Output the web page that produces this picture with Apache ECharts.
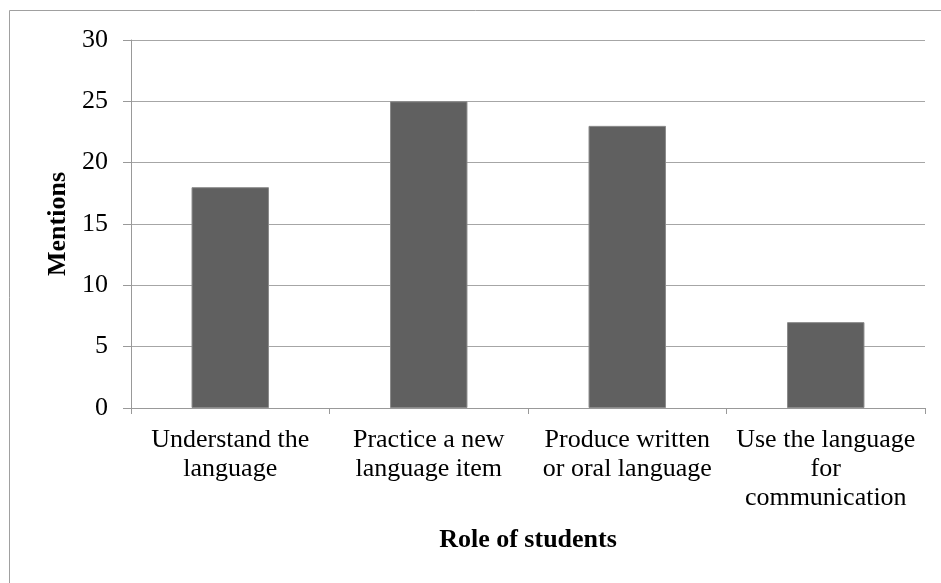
<!DOCTYPE html>
<html><head><meta charset="utf-8">
<script src="https://cdn.jsdelivr.net/npm/echarts@6/dist/echarts.min.js"></script>
<style>html,body{margin:0;padding:0;background:#fff}#c{width:941px;height:583px}</style>
</head><body><div id="c"></div>
<script>
const categories = ["Understand the\nlanguage", "Practice a new\nlanguage item", "Produce written\nor oral language", "Use the language\nfor\ncommunication"];
const mentions = [18, 25, 23, 7];
const yTicks = {min: 0, max: 30, interval: 5};

const chart = echarts.init(document.getElementById('c'));
const font = '"Liberation Serif", "Times New Roman", serif';
chart.setOption({
  animation: false,
  backgroundColor: '#fff',
  graphic: [{type: 'rect', shape: {x: 9.5, y: 10.5, width: 940, height: 580}, style: {fill: 'none', stroke: '#a0a0a0', lineWidth: 1}, silent: true}],
  grid: {left: 131, right: 16, top: 40, bottom: 175},
  xAxis: {
    type: 'category', data: categories,
    name: 'Role of students', nameLocation: 'middle', nameGap: 119,
    nameTextStyle: {fontFamily: font, fontSize: 26, fontWeight: 'bold', color: '#000'},
    axisLine: {lineStyle: {color: '#999', width: 1}},
    axisTick: {show: true, length: 6, lineStyle: {color: '#999'}},
    axisLabel: {interval: 0, fontFamily: font, fontSize: 26, color: '#000', lineHeight: 29, margin: 18}
  },
  yAxis: {
    type: 'value', min: yTicks.min, max: yTicks.max, interval: yTicks.interval,
    name: 'Mentions', nameLocation: 'middle', nameGap: 56,
    nameTextStyle: {fontFamily: font, fontSize: 26, fontWeight: 'bold', color: '#000'},
    axisLine: {show: true, lineStyle: {color: '#999', width: 1}},
    axisTick: {show: true, length: 8, lineStyle: {color: '#999'}},
    axisLabel: {fontFamily: font, fontSize: 26, color: '#000', margin: 23},
    splitLine: {lineStyle: {color: '#a6a6a6', width: 1}}
  },
  series: [{
    type: 'bar', data: mentions, barWidth: '39%',
    itemStyle: {color: '#606060', borderColor: '#8a8a8a', borderWidth: 1}
  }]
});
</script></body></html>
